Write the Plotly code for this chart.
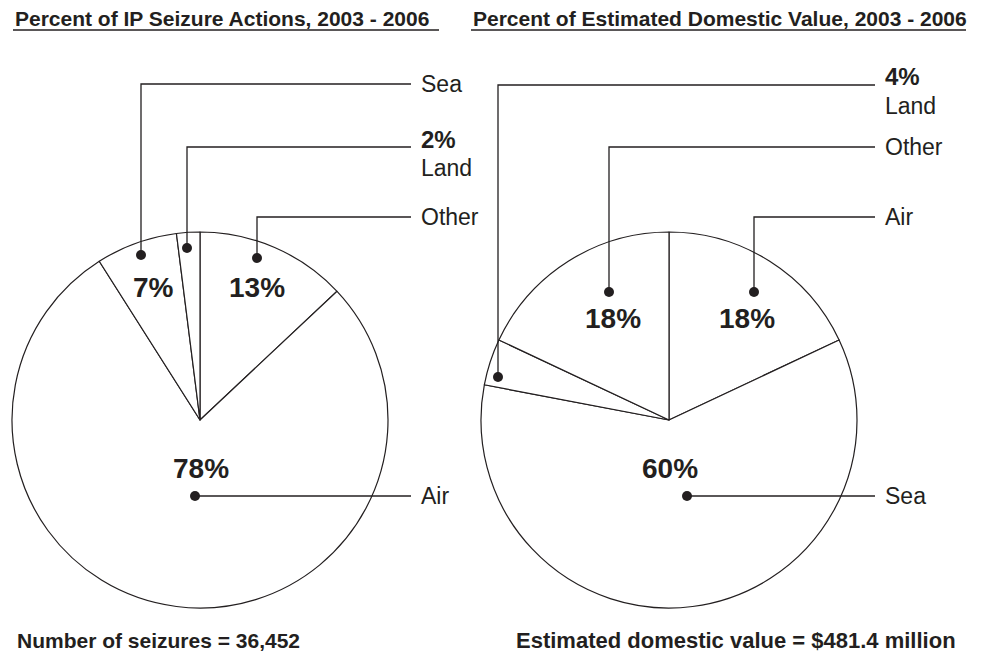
import plotly.graph_objects as go

# The page body adds an 8px margin, so the figure is sized and offset to fit the window.
OFF = 8
FW, FH = 980, 647

# ---- data ----
left_labels = ["Other", "Air", "Sea", "Land"]
left_values = [13, 78, 7, 2]
right_labels = ["Air", "Sea", "Land", "Other"]
right_values = [18, 60, 4, 18]

left_title = "Percent of IP Seizure Actions, 2003 - 2006"
right_title = "Percent of Estimated Domestic Value, 2003 - 2006"
left_note = "Number of seizures = 36,452"
right_note = "Estimated domestic value = $481.4 million"

# ---- geometry (window pixels) ----
R = 188
LC = (200, 420)
RC = (669, 420)
INK = "#231f20"
FONT = "Liberation Sans, Arial, Helvetica, sans-serif"


def px(x):
    return (x - OFF) / FW


def py(y):
    return 1 - (y - OFF) / FH


def domain(c):
    return dict(x=[px(c[0] - R), px(c[0] + R)], y=[py(c[1] + R), py(c[1] - R)])


fig = go.Figure()
for labels, values, c in [(left_labels, left_values, LC), (right_labels, right_values, RC)]:
    fig.add_trace(go.Pie(
        labels=labels, values=values, sort=False, direction="clockwise", rotation=0,
        textinfo="none", hoverinfo="label+percent", showlegend=False,
        marker=dict(colors=["white"] * len(values), line=dict(color=INK, width=1.2)),
        domain=domain(c),
    ))

# callout styling per slice: dot offset from centre, leader y, percent-label offset
left_call = {
    "Sea": dict(dot=(-59, -165), ly=84, pct=(-47, -133)),
    "Land": dict(dot=(-13, -172), ly=147, pct=None),
    "Other": dict(dot=(57, -162), ly=217, pct=(57, -133)),
    "Air": dict(dot=(-5, 76), ly=496, pct=(1, 48)),
}
right_call = {
    "Land": dict(dot=(-171, -43), ly=85, pct=None),
    "Other": dict(dot=(-60, -128), ly=147, pct=(-56, -102)),
    "Air": dict(dot=(85, -128), ly=217, pct=(78, -102)),
    "Sea": dict(dot=(18, 76), ly=496, pct=(1, 48)),
}

shapes = []
annotations = []


def add_callouts(labels, values, c, calls, line_end, text_x):
    for lab, val in zip(labels, values):
        s = calls[lab]
        dx, dy = c[0] + s["dot"][0], c[1] + s["dot"][1]
        ly = s["ly"]
        shapes.append(dict(type="circle", xref="paper", yref="paper",
                           x0=px(dx - 5), x1=px(dx + 5), y0=py(dy + 5), y1=py(dy - 5),
                           fillcolor=INK, line=dict(color=INK, width=0)))
        if abs(ly - dy) > 1:
            path = f"M {px(dx)} {py(dy)} L {px(dx)} {py(ly)} L {px(line_end)} {py(ly)}"
        else:
            path = f"M {px(dx)} {py(dy)} L {px(line_end)} {py(ly)}"
        shapes.append(dict(type="path", xref="paper", yref="paper", path=path,
                           line=dict(color=INK, width=1.3)))
        if s["pct"] is None:
            annotations.append(dict(x=px(text_x), y=py(ly - 8), xref="paper", yref="paper",
                                    text=f"<b>{val}%</b>", showarrow=False, xanchor="left",
                                    yanchor="middle", font=dict(size=24, color=INK, family=FONT)))
            annotations.append(dict(x=px(text_x), y=py(ly + 21), xref="paper", yref="paper",
                                    text=lab, showarrow=False, xanchor="left",
                                    yanchor="middle", font=dict(size=23, color=INK, family=FONT)))
        else:
            annotations.append(dict(x=px(text_x), y=py(ly), xref="paper", yref="paper",
                                    text=lab, showarrow=False, xanchor="left",
                                    yanchor="middle", font=dict(size=23, color=INK, family=FONT)))
            annotations.append(dict(x=px(c[0] + s["pct"][0]), y=py(c[1] + s["pct"][1]),
                                    xref="paper", yref="paper", text=f"<b>{val}%</b>",
                                    showarrow=False, xanchor="center", yanchor="middle",
                                    font=dict(size=28, color=INK, family=FONT)))


add_callouts(left_labels, left_values, LC, left_call, 411, 419)
add_callouts(right_labels, right_values, RC, right_call, 875, 883)

for text, x0, x1 in [(left_title, 13, 439), (right_title, 471, 966)]:
    annotations.append(dict(x=px(x0), y=py(18), xref="paper", yref="paper", text=f"<b>{text}</b>",
                            showarrow=False, xanchor="left", yanchor="middle",
                            font=dict(size=21, color=INK, family=FONT)))
    shapes.append(dict(type="line", xref="paper", yref="paper", x0=px(x0), x1=px(x1),
                       y0=py(30), y1=py(30), line=dict(color=INK, width=1.6)))

for text, x0, fs in [(left_note, 15, 21), (right_note, 514, 22)]:
    annotations.append(dict(x=px(x0), y=py(640), xref="paper", yref="paper", text=f"<b>{text}</b>",
                            showarrow=False, xanchor="left", yanchor="middle",
                            font=dict(size=fs, color=INK, family=FONT)))

fig.update_layout(
    width=FW, height=FH, margin=dict(l=0, r=0, t=0, b=0),
    paper_bgcolor="white", plot_bgcolor="white",
    shapes=shapes, annotations=annotations,
)

fig.write_html("out.html")
